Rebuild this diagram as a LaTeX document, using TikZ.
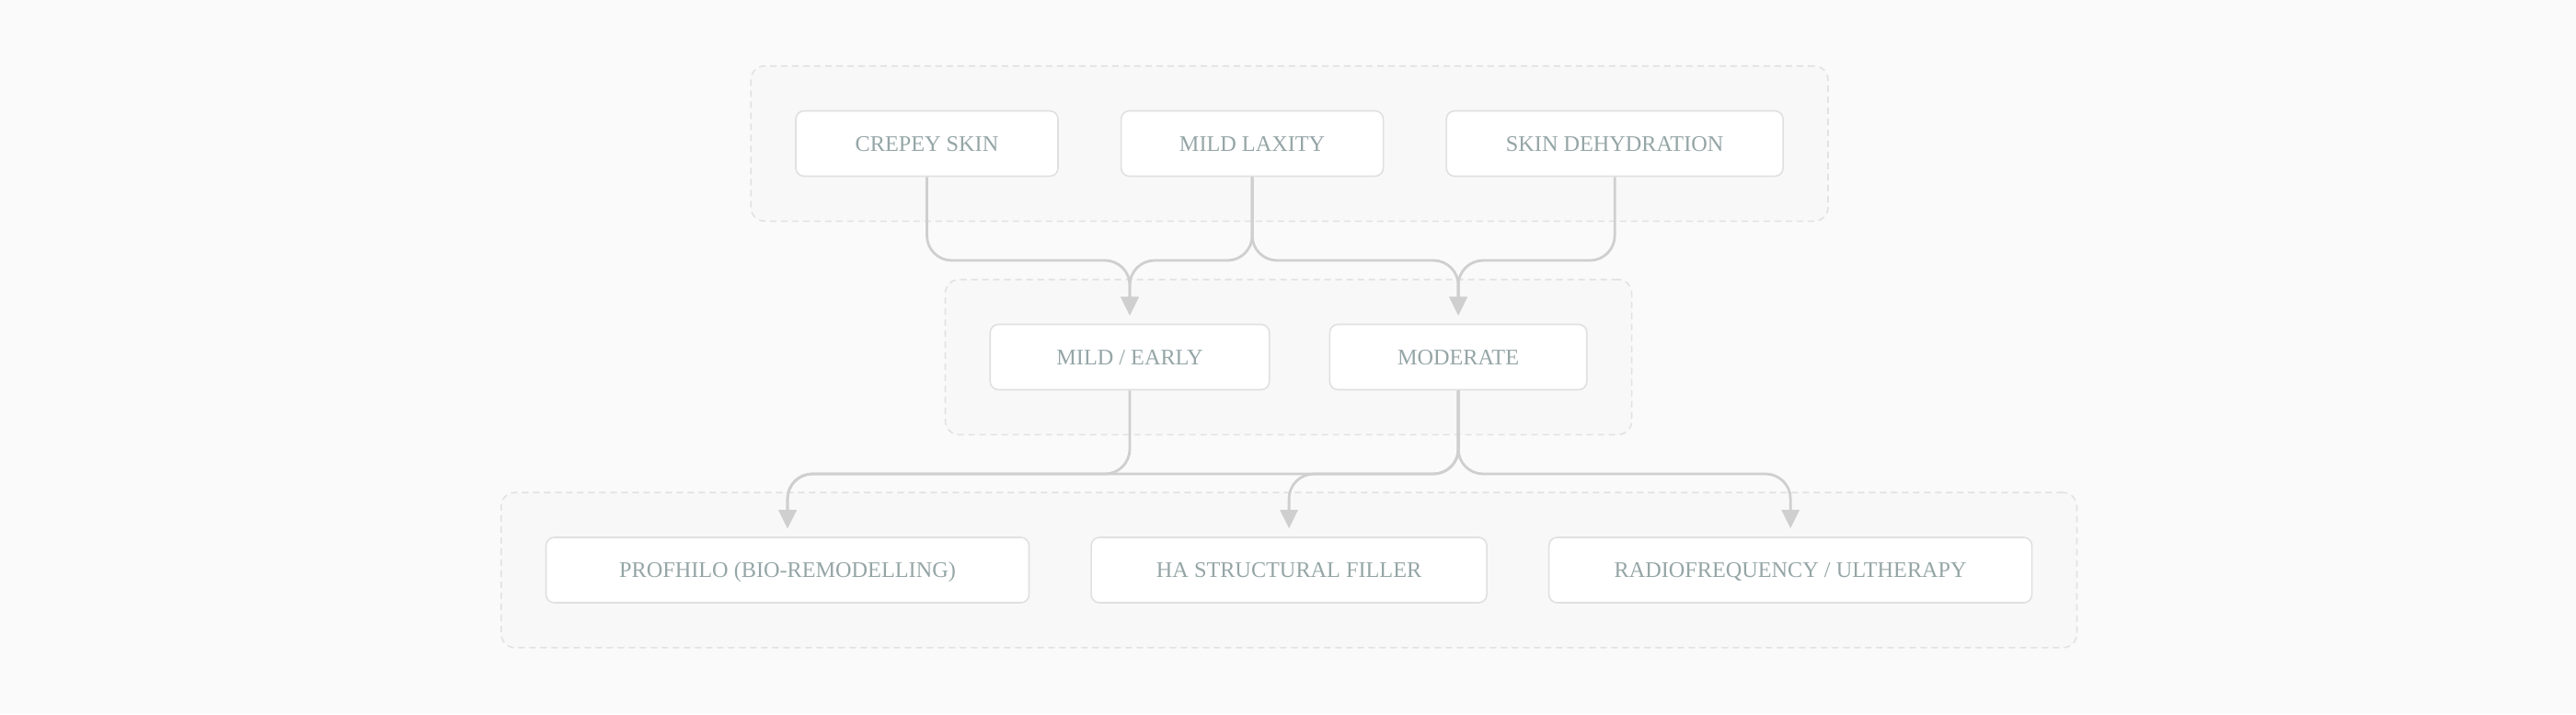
\documentclass[tikz,border=0pt]{standalone}
\usepackage{fontspec}
\setmainfont{Liberation Serif}
\usetikzlibrary{positioning, arrows.meta, fit, backgrounds}
\definecolor{pagebg}{HTML}{FAFAFA}
\definecolor{groupfill}{HTML}{F8F8F8}
\definecolor{groupline}{HTML}{E2E2E2}
\definecolor{boxline}{HTML}{E0E0E0}
\definecolor{labeltext}{HTML}{95A5A6}
\definecolor{flowline}{HTML}{CFCFCF}
\tikzset{
  >={Triangle[length=2mm, width=1.9mm]},
  stage/.style={draw=boxline, line width=0.45pt, rounded corners=0.9mm, fill=white, minimum height=7.1mm, inner sep=0pt, text height=4.6pt, text depth=0pt, text=labeltext, font=\fontsize{6.9pt}{8pt}\selectfont},
  group/.style={draw=groupline, dash pattern=on 0.7mm off 0.5mm, line width=0.45pt, rounded corners=1.5mm, fill=groupfill, inner sep=4.8mm},
  flow/.style={->, draw=flowline, line width=0.8pt, rounded corners=2.7mm, shorten >=0.9mm},
}

\begin{document}
\begin{tikzpicture}
      \useasboundingbox (0,0) rectangle (28,-7.76);

      % signs
      \node[stage, minimum width=28.5mm] (crepey) at (10.075,-1.56) {CREPEY SKIN};
      \node[stage, minimum width=28.5mm, right=6.7mm of crepey] (laxity) {MILD LAXITY};
      \node[stage, minimum width=36.6mm, right=6.7mm of laxity] (dehyd) {SKIN DEHYDRATION};

      % severity
      \node[stage, minimum width=30.35mm] (mild) at (12.28,-3.88) {MILD / EARLY};
      \node[stage, minimum width=27.95mm, right=6.4mm of mild] (moderate) {MODERATE};

      % treatments
      \node[stage, minimum width=52.5mm] (profhilo) at (8.56,-6.195) {PROFHILO (BIO-REMODELLING)};
      \node[stage, minimum width=43mm, right=6.6mm of profhilo] (filler) {HA STRUCTURAL FILLER};
      \node[stage, minimum width=52.5mm, right=6.6mm of filler] (radio) {RADIOFREQUENCY / ULTHERAPY};

      \begin{scope}[on background layer]
        \fill[pagebg] (0,0) rectangle (28,-7.76);
        \node[group, fit=(crepey) (dehyd)] (signs) {};
        \node[group, fit=(mild) (moderate)] (severity) {};
        \node[group, fit=(profhilo) (radio)] (treatments) {};
      \end{scope}

      \coordinate (topbus) at (0,-2.83);
      \coordinate (lowbus) at (0,-5.15);

      \draw[flow] (crepey.south) -- (crepey.south |- topbus) -- (mild.north |- topbus) -- (mild.north);
      \draw[flow] (laxity.south) -- (laxity.south |- topbus) -- (mild.north |- topbus) -- (mild.north);
      \draw[flow] (laxity.south) -- (laxity.south |- topbus) -- (moderate.north |- topbus) -- (moderate.north);
      \draw[flow] (dehyd.south) -- (dehyd.south |- topbus) -- (moderate.north |- topbus) -- (moderate.north);

      \draw[flow] (mild.south) -- (mild.south |- lowbus) -- (profhilo.north |- lowbus) -- (profhilo.north);
      \draw[flow] (moderate.south) -- (moderate.south |- lowbus) -- (profhilo.north |- lowbus) -- (profhilo.north);
      \draw[flow] (moderate.south) -- (moderate.south |- lowbus) -- (filler.north |- lowbus) -- (filler.north);
      \draw[flow] (moderate.south) -- (moderate.south |- lowbus) -- (radio.north |- lowbus) -- (radio.north);
    \end{tikzpicture}
\end{document}
